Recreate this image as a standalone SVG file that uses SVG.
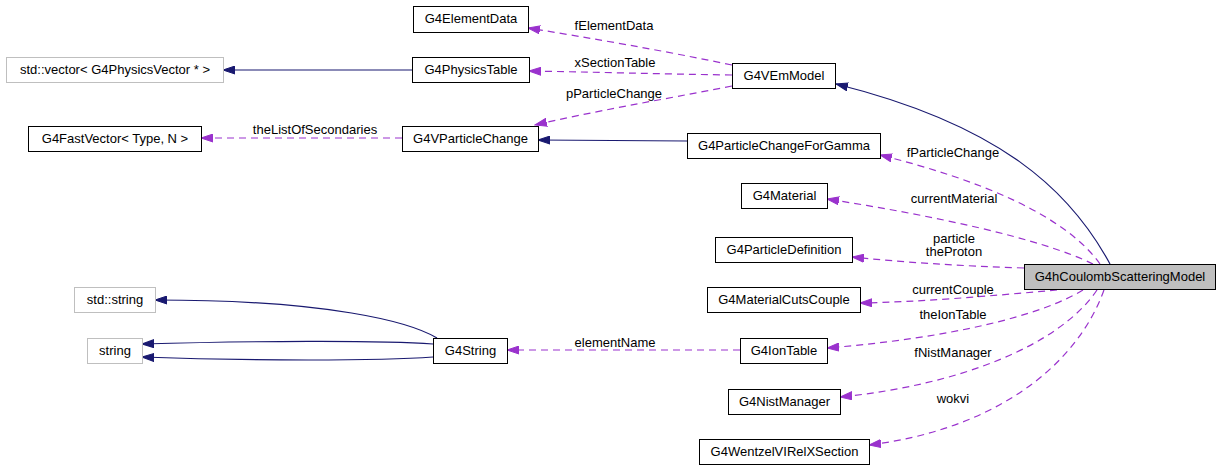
<svg xmlns="http://www.w3.org/2000/svg" width="1221" height="471" viewBox="0 0 1221 471">
<style>
text{font-family:"Liberation Sans",Arial,sans-serif;font-size:13px;fill:#000}
.n rect{fill:#fff;stroke:#000;stroke-width:1}
.g rect{fill:#fff;stroke:#bfbfbf;stroke-width:1}
.m rect{fill:#bfbfbf;stroke:#000;stroke-width:1}
.n text,.g text,.m text,.lbl{text-anchor:middle}
.inh{fill:none;stroke:#191970;stroke-width:1.2;marker-end:url(#an)}
.use{fill:none;stroke:#9a32cd;stroke-width:1.2;stroke-dasharray:7,5;marker-end:url(#ap)}
</style>
<defs>
<marker id="an" markerUnits="userSpaceOnUse" markerWidth="13" markerHeight="9" refX="12" refY="4.5" orient="auto"><path d="M0,0.5 L12,4.5 L0,8.5 z" fill="#191970" stroke="#191970"/></marker>
<marker id="ap" markerUnits="userSpaceOnUse" markerWidth="13" markerHeight="9" refX="12" refY="4.5" orient="auto"><path d="M0,0.5 L12,4.5 L0,8.5 z" fill="#9a32cd" stroke="#9a32cd"/></marker>
</defs>
<rect width="1221" height="471" fill="#fff"/>
<g id="edges">
<path class="inh" d="M1110,264 C1070,190 1000,125 836,84"/>
<path class="inh" d="M412,70 L223,70"/>
<path class="inh" d="M687,141 L538,140"/>
<path class="inh" d="M437,338 C410,322 330,300 155,300"/>
<path class="inh" d="M433,344 C380,340 250,341 142,344"/>
<path class="inh" d="M433,357 C380,361 250,361 142,357"/>
<path class="use" d="M732,65 C660,50 590,38 528,28"/>
<path class="use" d="M732,75 C660,74 590,72 529,71"/>
<path class="use" d="M732,86 C660,100 590,112 535,125"/>
<path class="use" d="M402,138 L201,138"/>
<path class="use" d="M1100,264 C1065,215 980,180 880,155"/>
<path class="use" d="M1093,264 C1040,238 930,215 827,199"/>
<path class="use" d="M1024,268 C960,266 900,262 852,257"/>
<path class="use" d="M1057,290 C990,296 920,302 860,303"/>
<path class="use" d="M1083,290 C1040,316 950,338 827,348"/>
<path class="use" d="M1097,290 C1060,345 960,385 840,397"/>
<path class="use" d="M1104,290 C1075,370 990,430 869,445"/>
<path class="use" d="M740,350 L507,350"/>
<text class="lbl" x="614" y="30">fElementData</text>
<text class="lbl" x="615" y="67">xSectionTable</text>
<text class="lbl" x="614" y="98">pParticleChange</text>
<text class="lbl" x="315" y="134">theListOfSecondaries</text>
<text class="lbl" x="953" y="157">fParticleChange</text>
<text class="lbl" x="954" y="203">currentMaterial</text>
<text class="lbl" x="954" y="243">particle</text>
<text class="lbl" x="954" y="256">theProton</text>
<text class="lbl" x="953" y="294">currentCouple</text>
<text class="lbl" x="953" y="319">theIonTable</text>
<text class="lbl" x="953" y="357">fNistManager</text>
<text class="lbl" x="953" y="403">wokvi</text>
<text class="lbl" x="615" y="347">elementName</text>
</g>
<g id="G4ElementData" class="n"><rect x="413.5" y="6.5" width="115" height="26"/><text x="471" y="23">G4ElementData</text></g>
<g id="G4PhysicsTable" class="n"><rect x="412.5" y="57.5" width="117" height="25"/><text x="471" y="74">G4PhysicsTable</text></g>
<g id="stdvector" class="g"><rect x="6.5" y="57.5" width="217" height="25"/><text x="115" y="74">std::vector&lt; G4PhysicsVector * &gt;</text></g>
<g id="G4VEmModel" class="n"><rect x="732.5" y="63.5" width="103" height="25"/><text x="784" y="80">G4VEmModel</text></g>
<g id="G4VParticleChange" class="n"><rect x="402.5" y="126.5" width="136" height="25"/><text x="470.5" y="143">G4VParticleChange</text></g>
<g id="G4FastVector" class="n"><rect x="28.5" y="126.5" width="173" height="25"/><text x="115" y="143">G4FastVector&lt; Type, N &gt;</text></g>
<g id="G4ParticleChangeForGamma" class="n"><rect x="687.5" y="133.5" width="193" height="25"/><text x="784" y="150">G4ParticleChangeForGamma</text></g>
<g id="G4Material" class="n"><rect x="741.5" y="183.5" width="86" height="25"/><text x="784.5" y="200">G4Material</text></g>
<g id="G4ParticleDefinition" class="n"><rect x="715.5" y="237.5" width="137" height="25"/><text x="784" y="254">G4ParticleDefinition</text></g>
<g id="G4MaterialCutsCouple" class="n"><rect x="707.5" y="287.5" width="153" height="25"/><text x="784" y="304">G4MaterialCutsCouple</text></g>
<g id="G4hCoulombScatteringModel" class="m"><rect x="1024.5" y="264.5" width="191" height="25"/><text x="1120" y="281">G4hCoulombScatteringModel</text></g>
<g id="stdstring" class="g"><rect x="74.5" y="287.5" width="81" height="25"/><text x="115" y="304">std::string</text></g>
<g id="string" class="g"><rect x="87.5" y="338.5" width="55" height="25"/><text x="115" y="355">string</text></g>
<g id="G4String" class="n"><rect x="433.5" y="338.5" width="74" height="25"/><text x="470.5" y="355">G4String</text></g>
<g id="G4IonTable" class="n"><rect x="740.5" y="338.5" width="87" height="25"/><text x="784" y="355">G4IonTable</text></g>
<g id="G4NistManager" class="n"><rect x="728.5" y="389.5" width="112" height="25"/><text x="784.5" y="406">G4NistManager</text></g>
<g id="G4WentzelVIRelXSection" class="n"><rect x="699.5" y="439.5" width="170" height="25"/><text x="784.5" y="456">G4WentzelVIRelXSection</text></g>
</svg>
